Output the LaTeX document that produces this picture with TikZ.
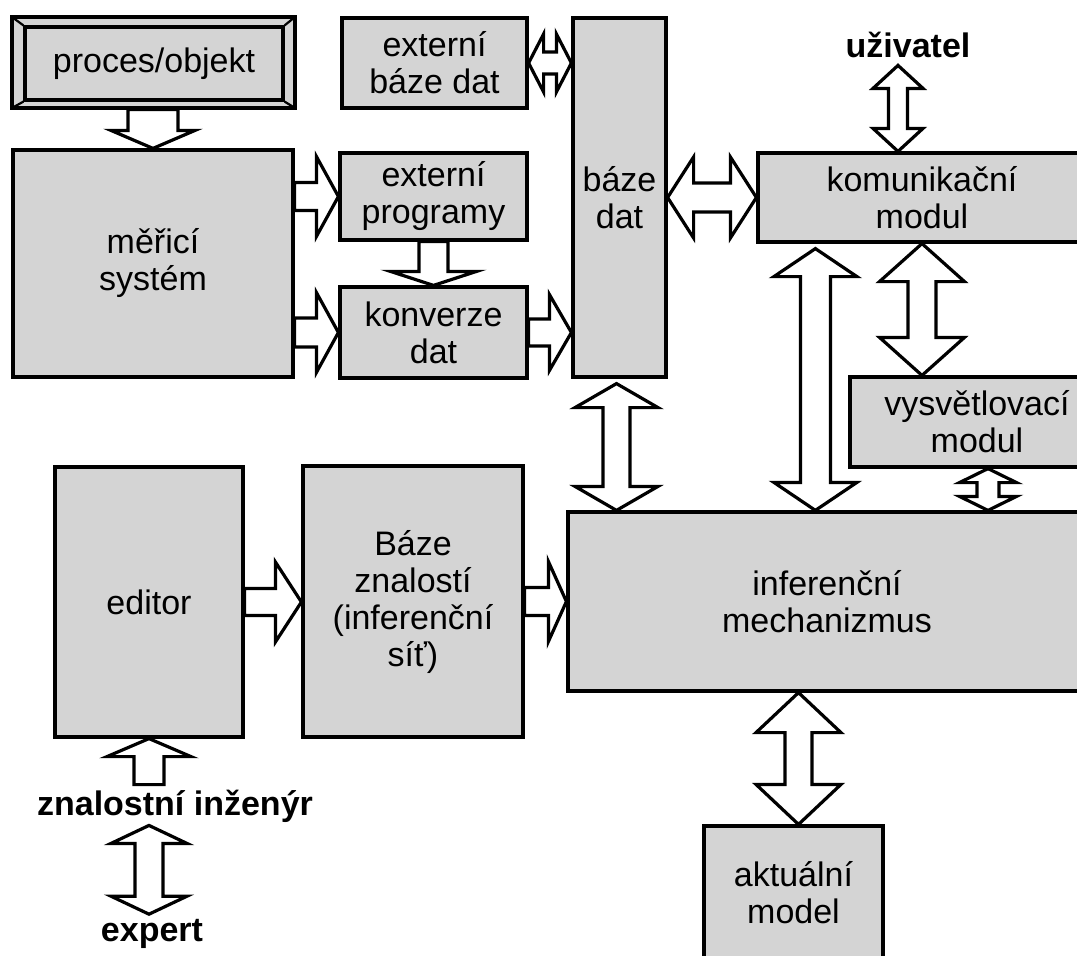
\documentclass[tikz,border=0pt]{standalone}
\usepackage{fontspec}
\setmainfont{Liberation Sans}
\usetikzlibrary{calc}

\definecolor{boxgray}{RGB}{212,212,212}

% block arrows: #1 tail (or tip), #2 tip, #3 half shaft, #4 half head, #5 head length
\newcommand{\onearrow}[5]{%
  \coordinate (ta) at (#1); \coordinate (tb) at (#2);
  \coordinate (hb) at ($(tb)!#5pt!(ta)$);
  \draw[blockarrow] ($(ta)!#3pt!90:(tb)$) -- ($(hb)!#3pt!90:(tb)$) -- ($(hb)!#4pt!90:(tb)$) -- (tb)
    -- ($(hb)!#4pt!-90:(tb)$) -- ($(hb)!#3pt!-90:(tb)$) -- ($(ta)!#3pt!-90:(tb)$) -- cycle;}
\newcommand{\twoarrow}[5]{%
  \coordinate (ta) at (#1); \coordinate (tb) at (#2);
  \coordinate (ha) at ($(ta)!#5pt!(tb)$); \coordinate (hb) at ($(tb)!#5pt!(ta)$);
  \draw[blockarrow] (ta) -- ($(ha)!#4pt!90:(tb)$) -- ($(ha)!#3pt!90:(tb)$) -- ($(hb)!#3pt!-90:(ta)$)
    -- ($(hb)!#4pt!-90:(ta)$) -- (tb) -- ($(hb)!#4pt!90:(ta)$) -- ($(hb)!#3pt!90:(ta)$)
    -- ($(ha)!#3pt!-90:(tb)$) -- ($(ha)!#4pt!-90:(tb)$) -- cycle;}

\begin{document}
\begin{tikzpicture}[x=1pt,y=-1pt,
  box/.style={draw, line width=3.2pt, fill=boxgray, align=center, inner sep=0pt, font=\fontsize{34}{37}\selectfont},
  blockarrow/.style={draw, line width=3.2pt, fill=white, line join=miter},
  who/.style={inner sep=0pt, font=\fontsize{34}{37}\selectfont\bfseries}]
\clip (0,0) rectangle (1077,956);

\draw[line width=3.2pt, fill=boxgray] (12,17) rectangle (295,108);
\node[box, minimum width=258pt, minimum height=73pt] (proc) at (154,63.5) {proces/objekt};
\draw[line width=2.2pt] (12,17) -- (proc.north west) (295,17) -- (proc.north east)
  (12,108) -- (proc.south west) (295,108) -- (proc.south east);

\node[box, minimum width=280pt, minimum height=227pt] (meas) at (153,263.5) {měřicí\\systém};
\node[box, minimum width=185pt, minimum height=90pt] (extdb) at (434.5,63) {externí\\báze dat};
\node[box, minimum width=187pt, minimum height=87pt] (extprog) at (433.5,196.5) {externí\\programy};
\node[box, minimum width=187pt, minimum height=91pt] (conv) at (433.5,332.5) {konverze\\dat};
\node[box, minimum width=93pt, minimum height=359pt] (db) at (619.5,197.5) {báze\\dat};
\node[box, minimum width=328pt, minimum height=89pt] (comm) at (922,197.5) {komunikační\\modul};
\node[box, minimum width=254pt, minimum height=90pt] (expl) at (977,422) {vysvětlovací\\modul};
\node[box, minimum width=518pt, minimum height=179pt] (infer) at (827,601.5) {inferenční\\mechanizmus};
\node[box, minimum width=179pt, minimum height=134pt] (model) at (793.5,893) {aktuální\\model};
\node[box, minimum width=188pt, minimum height=270pt] (editor) at (149,602) {editor};
\node[box, minimum width=220pt, minimum height=271pt] (kb) at (413,601.5) {Báze\\znalostí\\(inferenční\\síť)};

\node[who] (user) at (908,45) {uživatel};
\node[who] (eng) at (175,806) {znalostní inženýr};
\node[who] (expert) at (152,934) {expert};

\onearrow{$(proc.south -| meas.north)+(0,8)$}{meas.north}{25}{42}{18}
\onearrow{meas.east |- extprog.west}{extprog.west}{14}{40}{22}
\onearrow{meas.east |- conv.west}{conv.west}{14.5}{40}{22}
\onearrow{extprog.south}{conv.north}{14.5}{43}{14}
\onearrow{conv.east}{db.west |- conv.east}{13.5}{38}{22}
\twoarrow{extdb.east}{db.west |- extdb.east}{11}{29}{15}
\twoarrow{db.east |- comm.west}{comm.west}{14.5}{40.5}{26}

\coordinate (utip) at ($(comm.north)+(-24,-86)$);
\twoarrow{utip}{utip |- comm.north}{9.5}{25}{23}
\coordinate (clink) at ($(comm.south west)+(59,5)$);
\twoarrow{clink}{clink |- infer.north}{15}{41.5}{28}
\twoarrow{comm.south}{comm.south |- expl.north}{14}{42.5}{38}
\coordinate (elink) at ($(expl.south)+(11,0)$);
\twoarrow{elink}{elink |- infer.north}{11}{28.5}{14}
\coordinate (dlink) at ($(db.south)+(-3,5)$);
\twoarrow{dlink}{dlink |- infer.north}{13.5}{41.5}{24}
\coordinate (mlink) at ($(model.north)+(5,0)$);
\twoarrow{mlink |- infer.south}{mlink}{13.5}{42.5}{40}

\onearrow{editor.east}{kb.west |- editor.east}{13.5}{40}{26}
\onearrow{kb.east}{infer.west |- kb.east}{14}{40}{18}
\coordinate (elow) at ($(editor.south)+(0,46)$);
\onearrow{elow}{editor.south}{15}{42}{18}
\coordinate (xtop) at ($(editor.south |- eng.south)+(0,3)$);
\twoarrow{xtop}{$(xtop |- expert.north)+(0,-5)$}{14}{38}{18}
\end{tikzpicture}
\end{document}
